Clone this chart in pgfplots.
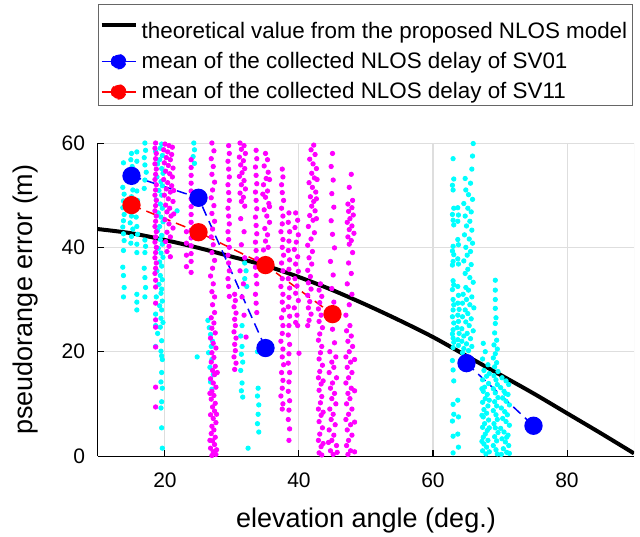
\documentclass[border=0pt]{standalone}
\usepackage{pgfplots}
\pgfplotsset{compat=1.18}
\usepackage{fontspec}
\setmainfont{Liberation Sans}
\definecolor{mcyan}{rgb}{0,1,1}
\definecolor{mmag}{rgb}{1,0,1}
\begin{document}
\begin{tikzpicture}
\path[use as bounding box] (-49pt,-40pt) rectangle (271pt,228pt);
\begin{axis}[
  width=268pt, height=156.5pt, scale only axis,
  xmin=10, xmax=90, ymin=0, ymax=60,
  xtick={20,40,60,80}, ytick={0,20,40,60},
  axis x line*=bottom, axis y line*=left,
  axis line style={black, line width=0.5pt},
  grid=major, major grid style={black!13, line width=0.5pt},
  tick style={black, line width=0.5pt}, major tick length=3pt,
  /pgf/number format/assume math mode=true,
  ticklabel style={font=\fontsize{10.5}{12}\selectfont},
  xticklabel style={yshift=-5pt},
  yticklabel style={xshift=-3pt},
  xlabel={elevation angle (deg.)},
  ylabel={pseudorange error (m)},
  label style={font=\fontsize{13.5}{16}\selectfont},
  xlabel style={at={(axis description cs:0.5,-0.23)}, anchor=base},
  ylabel style={at={(axis description cs:-0.123,0.5)}, anchor=base},
  unbounded coords=jump,
  legend style={at={(axis description cs:0,1)}, anchor=south west, yshift=18.5pt,
    font=\fontsize{11.2}{13}\selectfont, draw=black!60, line width=0.5pt,
    inner xsep=0.5pt, inner ysep=0pt, row sep=1.5pt,
    legend cell align=left},
  clip=true,
]
% cyan scatter (SV01 samples)
\addplot[only marks, mark=*, mark size=1.1pt, draw=mcyan, fill=mcyan, forget plot] table {
x y
13.8 56.2
13.7 51.5
13.9 50.2
13.8 48.9
13.7 47.6
13.9 46.3
13.8 45.1
13.7 43.9
13.8 42.6
13.9 41.3
13.8 39.4
13.7 36.2
13.8 34.6
13.9 32.3
13.8 30.5
15.0 58.0
14.9 56.8
15.1 55.5
15.0 54.3
14.8 53.0
15.2 51.0
15.0 49.7
14.9 48.4
15.1 47.2
15.0 46.0
14.8 44.7
15.2 43.5
15.0 42.1
14.9 40.8
15.8 58.3
15.8 56.5
15.8 50.8
15.9 49.0
15.8 47.4
15.7 45.8
15.8 44.0
15.9 42.5
15.8 40.6
15.8 39.0
15.8 31.0
15.8 29.5
15.8 28.0
17.0 60.0
17.1 58.6
16.9 57.2
17.0 55.8
17.2 54.4
17.0 52.9
16.9 51.3
17.0 41.4
17.1 40.2
17.0 39.0
16.9 36.0
17.0 34.2
17.1 32.3
17.0 30.5
19.5 59.8
19.3 59.0
18.6 58.4
19.6 57.6
19.2 56.8
18.9 56.0
19.5 55.1
19.7 54.2
18.8 53.5
19.4 52.6
19.6 51.8
19.1 50.9
19.5 50.0
18.7 49.1
19.3 48.3
19.6 47.5
19.0 46.6
19.4 45.8
19.7 44.9
19.2 44.0
18.9 43.2
19.5 42.3
19.3 41.5
19.6 40.6
19.0 39.8
19.4 38.9
19.7 38.1
19.2 37.2
19.5 36.4
18.8 35.5
19.3 34.6
19.6 33.8
19.1 32.9
19.5 32.0
19.4 31.2
18.7 30.5
19.6 29.7
19.2 28.8
19.5 28.0
18.6 27.2
19.4 26.4
19.7 25.6
19.3 24.7
18.9 23.5
19.5 22.1
18.6 21.0
19.4 20.1
19.5 19.2
19.6 18.5
19.5 16.0
19.4 14.2
19.6 13.0
19.5 10.4
19.4 9.2
19.5 5.4
19.6 1.5
18.6 25.0
21.8 47.0
24.3 60.0
24.4 58.7
24.2 57.4
24.4 56.1
24.8 19.0
26.4 26.0
26.6 24.6
26.8 23.3
27.1 22.0
26.9 21.0
26.5 19.8
27.0 18.5
26.7 17.0
27.2 15.6
26.8 14.2
27.0 12.8
31.9 37.0
32.1 35.5
31.9 34.0
32.2 32.5
31.5 25.0
31.3 23.0
31.5 21.0
31.4 19.5
31.6 18.0
31.3 16.4
31.5 14.0
31.4 12.5
31.6 11.3
32.4 1.5
33.8 20.0
33.9 13.0
33.8 11.5
34.0 9.8
33.9 8.0
33.8 6.2
34.0 4.6
63.0 57.0
63.1 53.1
62.9 51.9
63.0 51.0
63.1 47.5
62.9 46.3
63.0 45.2
63.1 44.3
63.0 40.2
62.9 39.3
63.1 38.6
63.0 37.3
62.9 36.6
63.0 33.6
63.1 32.8
62.9 31.9
63.0 30.0
63.1 29.0
63.0 28.0
62.9 26.7
63.1 25.5
63.0 24.2
62.9 23.4
63.0 22.6
63.1 21.8
63.0 20.8
62.9 18.3
63.0 16.5
63.1 14.4
63.0 9.9
63.1 8.0
62.9 6.7
63.0 3.8
63.0 0.6
63.7 47.6
63.8 46.2
63.7 45.0
63.7 41.5
63.8 40.5
63.7 37.8
63.8 36.8
63.7 32.5
63.8 30.8
63.7 29.3
63.9 28.1
63.7 27.0
63.8 25.8
63.6 24.6
63.9 23.5
63.7 22.3
63.8 21.2
63.7 10.7
63.8 7.5
63.7 4.2
63.8 1.7
66.0 59.9
65.9 57.5
65.8 55.0
64.8 53.2
65.6 52.3
64.9 51.0
65.3 50.1
65.9 49.2
64.6 48.4
65.2 47.5
65.7 46.8
64.8 46.0
65.5 45.0
65.0 44.1
65.8 43.3
64.7 42.4
65.4 41.6
65.9 40.8
64.9 40.0
65.6 39.2
65.1 38.5
64.6 37.4
65.7 36.7
65.2 35.8
64.8 35.0
65.5 34.2
66.0 33.3
64.9 32.3
65.3 31.8
64.5 31.0
65.8 30.5
65.0 30.0
64.4 29.3
65.5 29.0
66.1 28.4
64.8 28.0
65.2 27.3
64.4 26.7
65.7 26.3
64.9 25.7
65.4 25.0
64.3 24.4
66.0 24.0
65.1 23.5
64.6 23.0
65.6 22.5
64.3 22.0
65.0 21.5
65.8 21.0
64.6 20.6
65.3 20.2
64.4 19.8
67.5 21.6
67.8 20.0
67.4 18.6
68.2 17.5
67.6 16.4
68.0 15.3
67.4 14.6
68.3 13.9
67.7 13.2
67.5 12.4
68.1 11.8
67.8 11.0
67.4 10.3
68.2 9.6
67.6 8.9
68.0 8.2
67.5 7.5
68.3 6.9
67.7 6.2
67.4 5.5
68.1 4.9
67.8 4.2
67.5 3.6
68.2 3.0
67.6 2.3
68.0 1.7
67.4 1.0
67.9 0.4
68.4 0.8
67.3 12.9
68.4 15.8
68.4 10.7
67.3 7.8
68.4 5.4
67.3 2.8
69.3 33.7
69.3 31.8
69.3 30.0
69.3 28.3
69.4 26.5
69.3 25.4
69.2 23.6
69.5 22.2
69.1 21.3
69.6 20.5
69.3 19.6
69.0 18.8
69.5 17.9
69.2 17.1
69.7 16.2
69.1 15.4
69.4 14.6
69.6 13.7
69.0 12.9
69.3 12.1
69.7 11.2
69.2 10.4
69.5 9.6
69.0 8.7
69.4 7.9
69.6 7.0
69.1 6.2
69.3 5.4
69.7 4.5
69.2 3.7
69.5 2.9
69.0 2.0
69.4 1.2
69.6 0.4
70.3 15.0
70.9 14.4
71.3 13.7
70.1 13.1
70.6 12.4
71.2 11.8
70.4 11.1
70.9 10.5
71.4 9.8
70.2 9.2
70.7 8.5
71.1 7.9
70.4 7.2
70.9 6.6
71.4 5.9
70.1 5.3
70.6 4.6
71.2 4.0
70.3 3.3
70.8 2.7
71.3 2.0
70.5 1.4
71.0 0.7
70.2 0.3
71.4 0.5
70.8 12.0
71.0 3.6
};
% magenta scatter (SV11 samples)
\addplot[only marks, mark=*, mark size=1.1pt, draw=mmag, fill=mmag, forget plot] table {
x y
18.6 60.0
18.5 59.0
18.7 58.0
18.6 57.0
18.5 56.0
18.7 55.0
18.6 54.0
18.5 53.0
18.7 52.0
18.6 51.0
18.5 50.0
18.7 49.0
18.6 48.0
18.5 47.0
18.7 46.0
18.6 45.0
18.5 44.0
18.7 43.0
18.6 42.0
18.5 41.0
18.7 40.0
18.6 39.0
18.5 38.0
18.7 37.0
18.6 36.0
18.5 35.0
18.6 33.7
18.6 32.4
18.6 29.3
18.6 26.1
18.6 24.7
18.6 20.9
18.6 13.2
18.6 9.4
20.0 59.8
20.6 59.5
21.1 59.2
19.8 58.7
20.4 58.3
21.0 57.8
20.2 57.2
20.8 56.8
19.9 56.2
20.5 55.7
21.2 55.2
20.1 54.6
20.7 54.1
21.1 53.5
19.8 53.0
20.4 52.4
21.0 51.8
20.2 51.2
20.8 50.6
19.9 50.0
20.5 49.3
21.2 48.8
20.1 48.1
20.7 47.5
20.3 46.8
20.9 46.0
20.0 45.3
20.6 44.5
21.2 43.7
20.3 42.9
20.8 42.0
20.1 41.1
20.6 40.2
20.3 39.2
20.8 38.2
21.3 46.4
21.3 50.9
23.9 56.8
23.9 55.3
23.9 53.8
23.9 52.3
23.9 50.8
23.9 49.3
23.9 47.8
23.9 46.3
23.9 44.8
23.9 43.3
23.9 41.8
23.9 40.3
23.9 38.8
23.9 37.3
23.9 35.2
23.2 43.0
23.2 40.8
23.2 38.5
23.2 36.3
27.0 60.0
27.3 58.5
26.9 57.0
27.2 55.5
27.0 54.0
27.4 52.5
27.1 51.0
26.9 49.5
27.3 48.0
27.0 46.5
27.4 45.0
27.1 43.5
26.9 42.0
27.2 40.5
27.0 39.0
27.4 37.5
27.1 36.0
26.8 34.5
27.2 33.0
27.0 31.5
27.4 30.5
27.1 29.0
27.4 27.5
26.9 26.5
27.3 25.5
27.0 24.5
27.5 23.6
26.8 22.6
27.2 21.6
27.6 20.7
27.0 19.8
27.3 18.9
26.9 18.0
27.5 17.2
27.1 16.4
27.4 15.6
26.8 14.8
27.2 14.0
27.6 13.2
27.0 12.4
27.3 11.6
26.9 10.9
27.5 10.1
27.1 9.4
27.4 8.6
26.8 7.9
27.2 7.2
27.6 6.4
27.0 5.7
27.3 5.0
26.9 4.3
27.5 3.6
27.1 2.9
27.4 2.2
26.8 1.5
27.2 0.8
27.6 0.3
27.0 0.1
27.7 8.0
26.7 12.0
27.8 16.0
26.7 3.0
27.7 1.2
29.5 59.5
29.6 58.0
29.4 56.5
29.5 55.0
29.6 53.5
29.4 52.0
29.5 50.5
29.6 49.0
29.4 47.5
29.5 46.0
29.6 44.5
29.4 43.0
29.5 41.5
29.6 40.0
29.4 38.5
29.5 37.0
29.6 35.5
29.4 34.0
29.5 32.5
29.6 30.6
30.4 31.0
30.5 29.8
30.3 28.6
30.6 27.4
30.4 26.2
30.5 25.0
30.3 23.8
30.6 22.6
30.4 21.4
30.5 20.2
30.3 19.0
30.6 17.8
30.4 16.6
31.2 60.0
31.8 59.5
31.4 58.8
32.0 58.0
31.1 57.3
31.7 56.6
31.3 55.8
31.9 55.1
31.5 54.3
31.1 53.6
31.8 52.8
31.4 52.0
32.0 51.2
31.2 50.4
31.7 49.6
31.4 48.8
31.9 47.9
31.3 45.5
31.8 43.0
31.4 40.5
31.9 38.0
31.2 35.5
31.7 33.0
31.5 30.5
32.1 22.8
31.8 27.0
33.6 58.6
33.7 57.0
33.5 55.4
33.6 53.8
33.7 52.2
33.5 50.6
33.6 49.0
33.7 47.4
33.5 45.8
33.6 44.2
33.7 42.6
33.5 41.0
33.6 39.4
33.7 37.8
33.5 36.2
33.6 34.6
33.7 33.0
33.5 31.0
33.6 29.3
33.7 27.5
35.0 58.0
35.3 56.8
34.8 55.6
35.4 54.4
35.1 53.2
34.7 52.0
35.3 50.8
35.0 49.6
35.5 48.4
34.8 47.2
35.2 46.0
35.6 44.8
34.9 43.6
35.3 42.4
35.0 41.2
35.4 40.0
34.7 39.5
35.6 47.8
34.6 50.2
35.6 53.0
37.5 55.0
37.6 53.5
37.4 52.0
37.5 50.5
37.7 49.0
37.4 47.5
37.6 46.0
37.5 44.5
37.3 43.0
37.6 41.5
37.5 40.0
37.7 38.5
37.4 37.0
37.6 35.5
37.5 34.0
37.3 32.5
37.6 31.0
37.5 29.5
37.7 28.0
37.4 26.5
37.6 25.0
37.5 23.5
37.3 22.0
37.6 20.5
37.5 19.0
37.7 17.5
37.4 16.0
37.6 14.5
37.5 13.0
37.3 11.5
37.6 10.0
37.5 9.0
38.5 46.6
38.4 44.8
38.6 43.0
38.5 41.2
38.4 39.4
38.6 37.6
38.5 35.8
38.4 34.0
38.6 32.2
38.5 30.4
38.4 28.6
38.6 26.8
38.5 25.0
38.4 23.2
38.6 21.4
38.5 19.6
38.4 17.8
38.6 16.0
38.5 14.2
38.4 12.4
38.6 10.6
38.5 8.8
38.4 7.0
38.6 5.2
38.5 3.0
39.5 46.6
39.8 45.2
39.4 43.8
39.9 42.4
39.6 41.0
39.3 39.6
39.8 38.2
39.5 36.8
39.9 35.4
39.4 34.0
39.7 32.6
39.5 31.2
39.9 29.8
39.3 28.4
39.7 27.0
39.5 25.6
39.8 25.0
40.0 19.7
42.2 59.6
41.8 58.7
42.4 57.8
41.6 56.9
42.1 56.0
42.6 55.1
41.9 54.2
42.3 53.3
41.5 52.4
42.0 51.5
42.5 50.6
41.7 49.7
42.2 48.8
41.9 47.9
42.4 47.0
41.6 46.1
42.1 45.2
41.4 44.0
42.3 42.8
41.8 41.6
41.3 40.4
42.0 39.2
41.5 38.0
41.9 36.8
41.3 35.6
41.7 34.4
41.4 33.2
41.8 32.0
41.3 30.8
41.6 29.6
41.4 28.4
41.8 27.2
41.5 26.0
41.3 25.0
42.6 45.5
42.6 49.3
42.7 53.0
43.2 33.0
43.0 31.8
43.4 30.6
43.1 29.4
42.9 28.2
43.3 27.0
43.0 25.8
43.5 24.6
43.1 23.4
42.9 22.2
43.4 21.0
43.2 19.8
43.0 18.6
43.5 17.4
43.1 16.2
42.9 15.0
43.3 13.8
43.0 12.6
43.4 11.4
43.2 10.2
42.9 9.0
43.3 7.8
43.0 6.6
43.5 5.4
43.1 4.2
42.9 3.0
43.3 1.8
43.0 0.6
43.4 0.2
43.6 14.4
43.6 8.4
43.6 2.4
45.0 58.0
44.8 55.5
45.1 52.9
44.9 50.3
45.2 47.7
44.8 45.1
45.0 42.5
45.3 39.9
44.7 37.3
45.1 34.7
44.9 32.1
45.2 29.5
44.8 26.9
45.0 24.3
45.3 21.7
44.6 20.0
45.5 19.0
44.9 18.0
45.2 17.0
44.5 16.0
45.6 15.0
45.0 14.0
44.7 13.0
45.3 12.0
44.9 11.0
45.5 10.0
44.6 9.0
45.1 8.0
44.8 7.0
45.4 6.0
44.5 5.0
45.2 4.0
44.9 3.0
45.6 2.0
44.7 1.0
45.1 0.3
45.7 0.7
44.4 2.6
47.8 54.0
47.5 51.5
48.0 49.0
47.3 48.3
47.9 47.6
47.4 46.9
48.1 46.2
47.6 45.5
47.2 44.8
47.9 44.1
47.5 43.4
48.2 42.7
47.3 42.0
47.8 41.3
47.5 40.6
48.0 39.0
47.4 37.0
47.8 35.0
47.2 33.0
47.9 31.0
47.5 29.0
47.0 27.0
47.6 25.0
47.1 24.0
47.8 23.0
47.3 22.0
48.0 21.0
47.5 20.0
47.0 19.0
47.7 18.0
47.2 17.0
47.9 16.0
47.4 15.0
47.0 14.0
47.8 13.0
47.3 12.0
47.6 11.0
47.1 10.0
47.9 9.0
47.4 8.0
47.0 7.0
47.7 6.0
47.2 5.0
47.9 4.0
47.4 3.0
47.1 2.0
47.7 1.0
47.3 0.3
48.3 0.8
48.3 6.5
48.3 12.5
48.3 18.5
};
% theoretical curve
\addplot[black, line width=2pt, smooth,
  legend image code/.code={\draw[solid, black, line width=2pt] (0cm,0cm) -- (0.6cm,0cm);}]
  coordinates {(10,43.5) (15,42.7) (20,41.4) (25,39.9) (30,38.2) (35,36.5) (40,34.3) (45,31.8) (50,29.0) (55,26.0) (60,22.8) (65,19.2) (70,15.6) (75,12.0) (80,8.2) (85,4.4) (90,0.5)};
\addlegendentry{\rule{0pt}{14.7pt}theoretical value from the proposed NLOS model}
% SV01 means
\addplot[blue, line width=0.75pt, dash pattern=on 5pt off 3pt, mark=*, mark size=4.2pt,
  mark options={solid, fill=blue},
  legend image code/.code={\draw[solid, blue, line width=0.75pt] (0cm,0cm) -- (0.6cm,0cm);
    \fill[blue] (0.3cm,0cm) circle (3.5pt);}]
  coordinates {(15,53.7) (25,49.5) (35,20.7) (50,nan) (65,17.8) (75,5.8)};
\addlegendentry{mean of the collected NLOS delay of SV01}
% SV11 means
\addplot[red, line width=0.75pt, dash pattern=on 5pt off 3pt, mark=*, mark size=4.2pt,
  mark options={solid, fill=red},
  legend image code/.code={\draw[solid, red, line width=0.75pt] (0cm,0cm) -- (0.6cm,0cm);
    \fill[red] (0.3cm,0cm) circle (3.5pt);}]
  coordinates {(15,48.1) (25,42.9) (35,36.6) (45,27.2)};
\addlegendentry{mean of the collected NLOS delay of SV11}
\draw[black!13, line width=0.5pt] (rel axis cs:1,0) -- (rel axis cs:1,1);
\end{axis}
\end{tikzpicture}
\end{document}
